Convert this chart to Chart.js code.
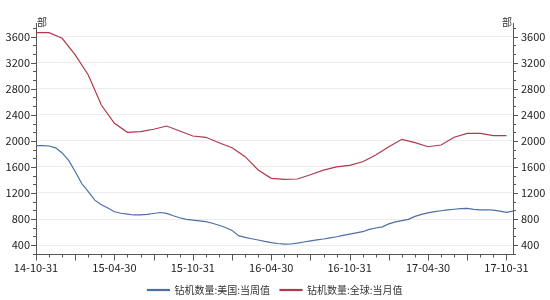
<!DOCTYPE html>
<html>
<head>
<meta charset="utf-8">
<script src="https://cdn.jsdelivr.net/npm/chart.js@4.4.1/dist/chart.umd.min.js"></script>
<style>
  html, body { margin: 0; padding: 0; background: #fff; }
  #wrap { width: 550px; height: 300px; }
</style>
</head>
<body>
<div id="wrap"><canvas id="c"></canvas></div>
<script>
// x 轴: 以 14-10-31 为 0 的月份序号
const tickLabels = ['14-10-31', '15-04-30', '15-10-31', '16-04-30', '16-10-31', '17-04-30', '17-10-31'];
const seriesNames = ['钻机数量:美国:当周值', '钻机数量:全球:当月值'];
const unitLabel = '部';

// 全球: 每月一个值 (月序号 0..36)
const globalMonthly = [
    3661, 3661, 3575, 3319, 3012, 2551, 2270, 2131, 2141, 2178, 2228, 2151,
    2075, 2055, 1972, 1895, 1757, 1552, 1425, 1410, 1414, 1480, 1550, 1600,
    1625, 1680, 1783, 1910, 2024, 1972, 1910, 1936, 2055, 2116, 2116, 2080,
    2080
];

// 美国: 半月读一次 (月序号 0, 0.5, 1 ... 36.5)
const usWeekly = [
    1926, 1928, 1921, 1893, 1815, 1700, 1530, 1345, 1219, 1090, 1020, 970,
    912, 888, 875, 862, 862, 870, 885, 900, 887, 850, 820, 795,
    782, 770, 760, 735, 705, 670, 625, 545, 518, 497, 478, 456,
    438, 424, 414, 416, 430, 447, 464, 480, 493, 510, 528, 550,
    569, 588, 605, 640, 662, 680, 725, 755, 775, 795, 840, 870,
    895, 912, 927, 940, 950, 958, 962, 948, 940, 942, 935, 920,
    903, 922
];
const usStep = 0.5;

const yTicks = [400, 800, 1200, 1600, 2000, 2400, 2800, 3200, 3600];
const yMin = 255, yMax = 3810;

const blue = '#4d6fa6';
const red = '#ad3a4f';
const axisColor = '#555555';
const fontFamily = '"Noto Sans CJK SC", "DejaVu Sans", sans-serif';

// 刻度线和单位
const tickPlugin = {
    id: 'tickMarks',
    afterDraw(chart) {
        const ctx = chart.ctx;
        const x = chart.scales.x, y = chart.scales.y;
        const a = chart.chartArea;
        ctx.save();
        ctx.strokeStyle = axisColor;
        ctx.lineWidth = 1;
        ctx.beginPath();
        for (let v = 400 - 400 / 3; v <= yMax; v += 400 / 3) {
            if (v < yMin) continue;
            const major = Math.abs(v / 400 - Math.round(v / 400)) < 0.01;
            const py = Math.round(y.getPixelForValue(v)) + 0.5;
            const len = major ? 5 : 3;
            ctx.moveTo(a.left - len, py); ctx.lineTo(a.left, py);
            ctx.moveTo(a.right, py); ctx.lineTo(a.right + len, py);
        }
        for (let m = 0; m <= 36; m++) {
            const px = Math.round(x.getPixelForValue(m)) + 0.5;
            const len = m % 3 === 0 ? 6 : 3;
            ctx.moveTo(px, a.bottom); ctx.lineTo(px, a.bottom + len);
        }
        ctx.stroke();
        ctx.fillStyle = '#333';
        ctx.font = '10px ' + fontFamily;
        ctx.textBaseline = 'bottom';
        ctx.textAlign = 'left';
        ctx.fillText(unitLabel, a.left + 1, a.top + 4);
        ctx.textAlign = 'right';
        ctx.fillText(unitLabel, a.right - 1, a.top + 4);
        ctx.restore();
    }
};

new Chart(document.getElementById('c'), {
    type: 'line',
    data: {
        datasets: [
            {
                label: seriesNames[0],
                data: usWeekly.map((v, i) => ({ x: i * usStep, y: v })),
                borderColor: blue,
                backgroundColor: blue,
                borderWidth: 1.2,
                pointRadius: 0,
                tension: 0,
                yAxisID: 'y'
            },
            {
                label: seriesNames[1],
                data: globalMonthly.map((v, i) => ({ x: i, y: v })),
                borderColor: red,
                backgroundColor: red,
                borderWidth: 1.2,
                pointRadius: 0,
                tension: 0,
                yAxisID: 'y1'
            }
        ]
    },
    options: {
        responsive: true,
        maintainAspectRatio: false,
        animation: false,
        layout: { padding: { top: 23, left: 0, right: 0, bottom: 0 } },
        plugins: {
            legend: {
                position: 'bottom',
                maxHeight: 25,
                labels: {
                    boxWidth: 22,
                    boxHeight: 1,
                    padding: 10,
                    color: '#333',
                    font: { family: fontFamily, size: 10 }
                }
            },
            tooltip: { enabled: false }
        },
        scales: {
            x: {
                type: 'linear',
                min: 0,
                max: 36.5,
                grid: { display: false, drawTicks: false },
                border: { display: true, color: axisColor },
                afterBuildTicks: (s) => { s.ticks = tickLabels.map((t, i) => ({ value: i * 6 })); },
                afterFit: (s) => {
                    const lh = s.chart.legend && s.chart.legend.height ? s.chart.legend.height : 0;
                    s.height = Math.max(10, 45.5 - lh);
                },
                ticks: {
                    padding: 7,
                    maxRotation: 0,
                    autoSkip: false,
                    color: '#222',
                    font: { family: fontFamily, size: 11 },
                    callback: (v) => tickLabels[Math.round(v / 6)]
                }
            },
            y: {
                position: 'left',
                min: yMin,
                max: yMax,
                grid: { color: '#ededed', drawTicks: false },
                border: { display: true, color: axisColor },
                afterBuildTicks: (s) => { s.ticks = yTicks.map(v => ({ value: v })); },
                afterFit: (s) => { s.width = 36; },
                ticks: {
                    padding: 6,
                    color: '#222',
                    font: { family: fontFamily, size: 11 },
                    callback: (v) => String(v)
                }
            },
            y1: {
                position: 'right',
                min: yMin,
                max: yMax,
                grid: { display: false, drawTicks: false },
                border: { display: true, color: axisColor },
                afterBuildTicks: (s) => { s.ticks = yTicks.map(v => ({ value: v })); },
                afterFit: (s) => { s.width = 37; },
                ticks: {
                    padding: 8,
                    color: '#222',
                    font: { family: fontFamily, size: 11 },
                    callback: (v) => String(v)
                }
            }
        }
    },
    plugins: [tickPlugin]
});
</script>
</body>
</html>
